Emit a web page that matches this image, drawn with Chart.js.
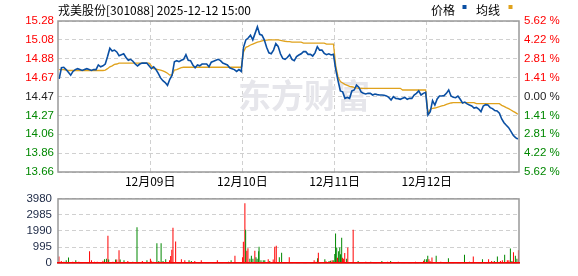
<!DOCTYPE html>
<html><head><meta charset="utf-8">
<script src="https://cdn.jsdelivr.net/npm/chart.js@4.4.1/dist/chart.umd.min.js"></script>
<style>
html,body{margin:0;padding:0;background:#fff;}
#wrap{position:relative;width:578px;height:276px;overflow:hidden;background:#fff;}
#c1{position:absolute;left:0;top:0;width:578px;height:192px;}
#c2{position:absolute;left:0;top:186px;width:578px;height:90px;}
</style></head><body>
<div id="wrap"><canvas id="c1" width="578" height="192"></canvas><canvas id="c2" width="578" height="90"></canvas></div>
<script>
// ---------- data ----------
const titleText = '戎美股份[301088] 2025-12-12 15:00';
const legendLabels = ['价格', '均线'];
const watermarkText = '东方财富';
const dateLabels = ['12月09日', '12月10日', '12月11日', '12月12日'];
const minutesPerDay = 241;
const dayCount = 5;
const preClose = 14.47;
const maxPct = 5.62;
const priceTickLabels = ['15.28','15.08','14.88','14.67','14.47','14.27','14.06','13.86','13.66'];
const pctTickLabels = ['5.62 %','4.22 %','2.81 %','1.41 %','0.00 %','1.41 %','2.81 %','4.22 %','5.62 %'];
const volTickLabels = ['3980','2985','1990','995','0'];
const volMax = 3980;

const day1Price = [14.66,14.78,14.785,14.76,14.73,14.70,14.74,14.76,14.77,14.76,14.75,14.76,14.77,14.76,14.75,14.76,14.76,14.81,14.79,14.80,14.82,14.90,14.99,14.96,14.97,14.95,14.91,14.92,14.93,14.89,14.86,14.87,14.85,14.82,14.80,14.82,14.83,14.83,14.83,14.80];
const day2Price = [14.77,14.79,14.76,14.72,14.67,14.64,14.62,14.59,14.655,14.70,14.845,14.856,14.845,14.86,14.87,14.92,14.86,14.856,14.81,14.78,14.81,14.80,14.82,14.82,14.82,14.79,14.84,14.85,14.86,14.87,14.856,14.83,14.82,14.81,14.78,14.77,14.76,14.74,14.76,14.74];
const day3Price = [15.00,15.08,15.10,15.13,15.08,15.15,15.22,15.14,15.13,15.08,15.00,14.94,14.93,14.97,15.04,15.01,14.93,14.88,14.87,14.89,14.92,14.87,14.856,14.90,14.917,14.93,14.953,14.953,14.924,14.924,14.906,14.94,15.007,14.97,14.97,14.935,14.92,14.93,14.917,14.924];
const day4Price = [14.76,14.64,14.53,14.52,14.45,14.46,14.45,14.53,14.54,14.594,14.57,14.52,14.504,14.497,14.504,14.504,14.486,14.497,14.49,14.486,14.486,14.483,14.476,14.46,14.432,14.468,14.45,14.447,14.44,14.45,14.46,14.44,14.45,14.45,14.486,14.504,14.53,14.486,14.504,14.515];
const day5Price = [14.27,14.307,14.425,14.378,14.443,14.475,14.475,14.479,14.504,14.54,14.475,14.461,14.457,14.475,14.44,14.40,14.41,14.39,14.378,14.368,14.346,14.353,14.335,14.307,14.368,14.382,14.378,14.35,14.34,14.318,14.314,14.289,14.228,14.188,14.16,14.134,14.095,14.052,14.027,14.012];

const day1Avg = [14.76,14.76,14.76,14.755,14.75,14.75,14.75,14.75,14.75,14.75,14.75,14.75,14.75,14.75,14.75,14.75,14.75,14.75,14.75,14.75,14.755,14.77,14.79,14.80,14.815,14.82,14.83,14.83,14.83,14.83,14.83,14.83,14.83,14.83,14.83,14.83,14.83,14.83,14.83,14.83];
const day2Avg = [14.80,14.77,14.765,14.76,14.755,14.745,14.735,14.72,14.70,14.705,14.755,14.76,14.77,14.78,14.785,14.785,14.785,14.785,14.785,14.785,14.785,14.785,14.785,14.785,14.785,14.785,14.785,14.785,14.785,14.785,14.785,14.785,14.785,14.785,14.785,14.785,14.785,14.785,14.785,14.785];
const day3Avg = [14.95,15.00,15.01,15.025,15.035,15.045,15.055,15.06,15.07,15.075,15.078,15.079,15.079,15.079,15.079,15.079,15.075,15.07,15.065,15.062,15.06,15.055,15.055,15.055,15.055,15.055,15.045,15.045,15.045,15.045,15.045,15.045,15.045,15.045,15.045,15.045,15.035,15.035,15.035,15.035];
const day4Avg = [14.80,14.68,14.63,14.615,14.60,14.59,14.58,14.575,14.568,14.562,14.558,14.558,14.558,14.558,14.558,14.558,14.558,14.558,14.558,14.558,14.558,14.558,14.558,14.558,14.558,14.558,14.558,14.558,14.558,14.54,14.54,14.54,14.54,14.54,14.54,14.54,14.54,14.54,14.54,14.54];
const day5Avg = [14.29,14.33,14.343,14.346,14.353,14.36,14.368,14.375,14.386,14.393,14.40,14.404,14.404,14.404,14.404,14.404,14.404,14.404,14.404,14.404,14.404,14.393,14.393,14.393,14.393,14.393,14.393,14.393,14.393,14.393,14.393,14.393,14.375,14.364,14.35,14.339,14.325,14.31,14.296,14.278];

// volume spikes: minute index from the start of the 5-day window, value, 1 = up (red) / 0 = down (green)
const volMinutes = [2,8,15,21,27,38,46,54,82,87,95,102,117,121,126,130,132,143,150,153,159,162,172,182,195,206,220,232,241,243,248,258,263,269,274,281,291,294,297,300,307,322,331,342,348,357,374,416,445,452,462,482,484,488,490,493,496,501,505,509,514,517,520,524,525,530,536,540,549,553,562,566,570,578,584,604,669,674,678,680,697,700,708,712,716,719,723,725,728,730,733,736,738,741,743,746,749,754,757,771,784,791,804,817,846,861,869,889,934,955,958,963,966,969,972,977,988,1000,1016,1020,1062,1075,1085,1109,1125,1133,1140,1148,1156,1161,1167,1174,1178,1182,1186,1190,1195,1199,1203];
const volValues = [405,130,90,180,350,90,180,90,740,180,90,90,150,240,275,1690,220,90,220,220,790,220,180,130,90,2225,130,180,275,150,90,1230,130,1230,130,240,180,440,830,2190,1340,240,180,180,130,130,180,180,90,180,460,370,1325,3717,2060,770,920,275,460,275,770,370,275,735,1010,180,180,180,240,130,220,1010,1070,370,640,370,180,90,295,645,240,110,130,150,180,180,570,1840,960,330,740,960,550,1565,330,275,625,275,960,2060,130,60,90,90,130,90,130,90,90,150,240,240,460,240,130,350,460,90,70,295,515,90,405,240,240,130,130,405,130,180,515,180,180,900,130,680,460,275,790];
const volUp = [1,1,0,0,0,1,0,1,1,1,1,1,1,0,0,1,0,1,0,1,1,0,0,1,0,0,1,0,1,1,0,0,0,0,0,0,1,1,1,1,1,1,1,0,0,1,1,1,0,0,1,1,1,1,0,1,1,0,0,0,1,0,0,0,0,0,0,0,1,0,1,1,1,0,0,1,1,1,0,1,0,1,0,0,1,0,0,0,0,1,0,0,0,0,1,1,1,0,1,1,0,0,1,0,0,1,0,1,1,1,0,0,0,1,1,1,0,1,1,0,0,0,1,0,1,1,0,0,1,1,0,1,1,0,0,1,0,0];

// ---------- styles ----------
const RED = '#ff0000', GREEN = '#008800', DARK = '#222222';
const BLUE = '#0a4fa3', GOLD = '#e0a21c';
const GRID = '#d0d0d0', FRAME = '#999999';
const numFont = {family: '"Liberation Sans", Arial, sans-serif', size: 11.5};
const cjkFamily = '"Noto Sans CJK SC", sans-serif';

const totalMinutes = minutesPerDay * dayCount;
const dayStarts = dateLabels.map((_, i) => (i + 1) * minutesPerDay);
const pMax = preClose * (1 + maxPct / 100);
const pMin = preClose * (1 - maxPct / 100);
const pStep = (pMax - pMin) / (priceTickLabels.length - 1);

function toPoints(days) {
  const pts = [];
  days.forEach((arr, d) => arr.forEach((v, i) => pts.push({x: d * minutesPerDay + (i + 0.5) * minutesPerDay / arr.length, y: v})));
  return pts;
}
function tickColor(v) {
  if (v > preClose + 1e-6) return RED;
  if (v < preClose - 1e-6) return GREEN;
  return DARK;
}

const framePlugin = {
  id: 'frame',
  afterDatasetsDraw(chart) {
    const a = chart.chartArea, ctx = chart.ctx;
    ctx.save();
    ctx.strokeStyle = FRAME; ctx.lineWidth = 1.5;
    ctx.strokeRect(a.left, a.top, a.right - a.left, a.bottom - a.top);
    ctx.restore();
  }
};
const watermarkPlugin = {
  id: 'watermark',
  beforeDatasetsDraw(chart) {
    const ctx = chart.ctx;
    ctx.save();
    ctx.fillStyle = '#e6e6eb';
    ctx.font = 'bold 33px ' + cjkFamily;
    ctx.textBaseline = 'middle';
    ctx.fillText(watermarkText, 238, 95);
    ctx.restore();
  }
};
const headerPlugin = {
  id: 'header',
  afterDraw(chart) {
    const ctx = chart.ctx;
    ctx.save();
    ctx.fillStyle = '#000';
    ctx.font = '12px ' + cjkFamily;
    ctx.textBaseline = 'middle';
    ctx.fillText(titleText, 58, 10);
    ctx.fillText(legendLabels[0], 431, 10);
    ctx.fillText(legendLabels[1], 476, 10);
    ctx.fillStyle = BLUE; ctx.fillRect(462.5, 5, 4, 4);
    ctx.fillStyle = GOLD; ctx.fillRect(508.5, 5, 4, 4);
    ctx.restore();
  }
};

new Chart(document.getElementById('c1'), {
  type: 'line',
  data: {datasets: [
    {label: legendLabels[0], data: toPoints([day1Price, day2Price, day3Price, day4Price, day5Price]), borderColor: BLUE, borderWidth: 1.6, pointRadius: 0, tension: 0, fill: false},
    {label: legendLabels[1], data: toPoints([day1Avg, day2Avg, day3Avg, day4Avg, day5Avg]), borderColor: GOLD, borderWidth: 1.3, pointRadius: 0, tension: 0, fill: false}
  ]},
  options: {
    responsive: false, animation: false, devicePixelRatio: 1,
    layout: {padding: {top: 21, left: 0, right: 0, bottom: 0}},
    plugins: {legend: {display: false}, tooltip: {enabled: false}},
    scales: {
      x: {
        type: 'linear', min: 0, max: totalMinutes,
        afterBuildTicks(s) { s.ticks = dayStarts.map(v => ({value: v})); },
        afterFit(s) { s.height = 20; },
        ticks: {autoSkip: false, maxRotation: 0, padding: 2, color: '#000', font: {family: cjkFamily, size: 12}, callback: (v, i) => dateLabels[i]},
        grid: {color: GRID, lineWidth: 1, drawTicks: false},
        border: {display: false, dash: [4, 3]}
      },
      y: {
        position: 'left', min: pMin, max: pMax,
        afterBuildTicks(s) { s.ticks = priceTickLabels.map((_, i) => ({value: pMin + i * pStep})); },
        afterFit(s) { s.width = 58; },
        ticks: {autoSkip: false, padding: 4, font: numFont, color: c => tickColor(c.tick.value), callback: (v, i, t) => priceTickLabels[t.length - 1 - i]},
        grid: {color: GRID, lineWidth: 1, drawTicks: false},
        border: {display: false, dash: [4, 3]}
      },
      y2: {
        position: 'right', min: pMin, max: pMax,
        afterBuildTicks(s) { s.ticks = pctTickLabels.map((_, i) => ({value: pMin + i * pStep})); },
        afterFit(s) { s.width = 59; },
        ticks: {autoSkip: false, padding: 5, font: numFont, color: c => tickColor(c.tick.value), callback: (v, i, t) => pctTickLabels[t.length - 1 - i]},
        grid: {display: false, drawTicks: false},
        border: {display: false}
      }
    }
  },
  plugins: [watermarkPlugin, framePlugin, headerPlugin]
});

new Chart(document.getElementById('c2'), {
  type: 'bar',
  data: {datasets: [{
    label: 'vol',
    data: volMinutes.map((m, i) => ({x: m + 0.5, y: volValues[i]})),
    backgroundColor: volUp.map(u => u ? RED : GREEN),
    borderWidth: 0, barThickness: 1, inflateAmount: 0
  }]},
  options: {
    responsive: false, animation: false, devicePixelRatio: 1,
    layout: {padding: {top: 10, left: 0, right: 59, bottom: 6.7}},
    plugins: {legend: {display: false}, tooltip: {enabled: false}},
    scales: {
      x: {
        type: 'linear', min: 0, max: totalMinutes, offset: false,
        afterFit(s) { s.height = 0; },
        ticks: {display: false},
        grid: {display: false, drawTicks: false, offset: false},
        border: {display: true, color: RED, width: 1.5, z: 1}
      },
      y: {
        min: 0, max: volMax,
        afterBuildTicks(s) { s.ticks = volTickLabels.map((_, i) => ({value: volMax * i / (volTickLabels.length - 1)})); },
        afterFit(s) { s.width = 58; },
        ticks: {autoSkip: false, padding: 6, font: numFont, color: '#1b2744', callback: (v, i, t) => volTickLabels[t.length - 1 - i]},
        grid: {color: GRID, lineWidth: 1, drawTicks: false},
        border: {display: false, dash: [4, 3]}
      }
    }
  },
  plugins: [framePlugin]
});
</script>
</body></html>
